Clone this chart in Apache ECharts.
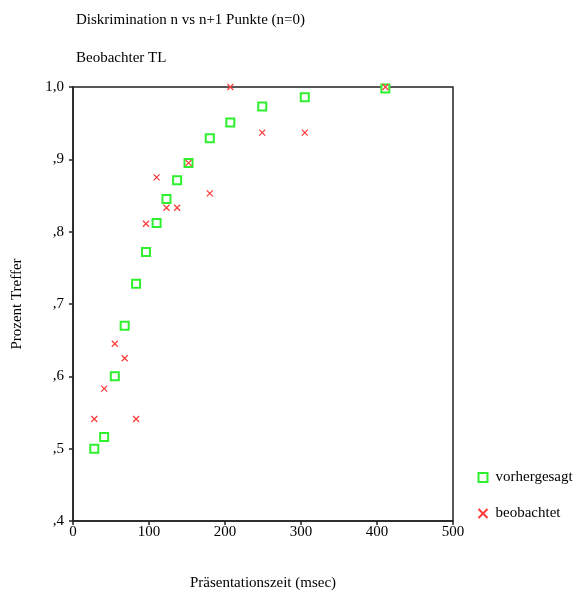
<!DOCTYPE html>
<html><head><meta charset="utf-8">
<script src="https://cdn.jsdelivr.net/npm/echarts@6/dist/echarts.min.js"></script>
<style>html,body{margin:0;padding:0;background:#fff}#c{width:578px;height:596px}</style>
</head><body><div id="c"></div>
<script>
const xTimes = [28, 41, 55, 68, 83, 96, 110, 123, 137, 152, 180, 207, 249, 305, 411];
const predicted = [0.500, 0.516, 0.600, 0.670, 0.728, 0.772, 0.812, 0.845, 0.871, 0.895, 0.929, 0.951, 0.973, 0.986, 0.998];
const observed = [0.541, 0.583, 0.645, 0.625, 0.541, 0.811, 0.875, 0.833, 0.833, 0.895, 0.853, 1.000, 0.937, 0.937, 1.000];
const seriesNames = ['vorhergesagt', 'beobachtet'];
const titleLines = ['Diskrimination n vs n+1 Punkte (n=0)', 'Beobachter TL'];
const xName = 'Präsentationszeit (msec)';
const yName = 'Prozent Treffer';

const F = 'Liberation Serif, Times New Roman, serif';
const chart = echarts.init(document.getElementById('c'));
chart.setOption({
  animation: false,
  backgroundColor: '#fff',
  title: [
    {text: titleLines[0], left: 71, top: 8, textStyle: {fontFamily: F, fontSize: 15, fontWeight: 'normal', color: '#000'}},
    {text: titleLines[1], left: 71, top: 46, textStyle: {fontFamily: F, fontSize: 15, fontWeight: 'normal', color: '#000'}}
  ],
  grid: {left: 73, right: 125, top: 87, bottom: 74, show: true, borderColor: '#222', borderWidth: 1.5, backgroundColor: 'transparent'},
  legend: {
    orient: 'vertical', left: 471, top: 465, itemGap: 21, itemWidth: 9, itemHeight: 9,
    textStyle: {fontFamily: F, fontSize: 15, color: '#000', padding: [0, 0, 0, 3]},
    data: seriesNames
  },
  xAxis: {
    type: 'value', min: 0, max: 500, interval: 100,
    name: xName, nameLocation: 'middle', nameGap: 55,
    nameTextStyle: {fontFamily: F, fontSize: 15, color: '#000'},
    axisLine: {show: true, onZero: false, lineStyle: {color: '#222', width: 1.5}},
    axisTick: {show: true, length: 4, lineStyle: {color: '#222', width: 1.5}},
    axisLabel: {fontFamily: F, fontSize: 15, color: '#000', margin: 4},
    splitLine: {show: false}
  },
  yAxis: {
    type: 'value', min: 0.4, max: 1.0, interval: 0.1,
    name: yName, nameLocation: 'middle', nameGap: 48, nameRotate: 90,
    nameTextStyle: {fontFamily: F, fontSize: 15, color: '#000'},
    axisLine: {show: true, onZero: false, lineStyle: {color: '#222', width: 1.5}},
    axisTick: {show: true, length: 4, lineStyle: {color: '#222', width: 1.5}},
    axisLabel: {fontFamily: F, fontSize: 15, color: '#000', margin: 9,
      formatter: v => { const k = Math.round(v * 10); return k === 10 ? '1,0' : ',' + k; }},
    splitLine: {show: false}
  },
  series: [
    {
      name: seriesNames[0], type: 'scatter', symbol: 'rect', symbolSize: 8,
      itemStyle: {color: '#fff', borderColor: '#2ef02e', borderWidth: 2, opacity: 1},
      data: xTimes.map((x, i) => [x, predicted[i]]), z: 2
    },
    {
      name: seriesNames[1], type: 'scatter', symbol: 'path://M0,0L10,10M10,0L0,10', symbolSize: 6,
      itemStyle: {color: 'none', borderColor: '#ff3838', borderWidth: 1.2, opacity: 1},
      data: xTimes.map((x, i) => [x, observed[i]]), z: 3
    }
  ]
});
</script>
</body></html>
